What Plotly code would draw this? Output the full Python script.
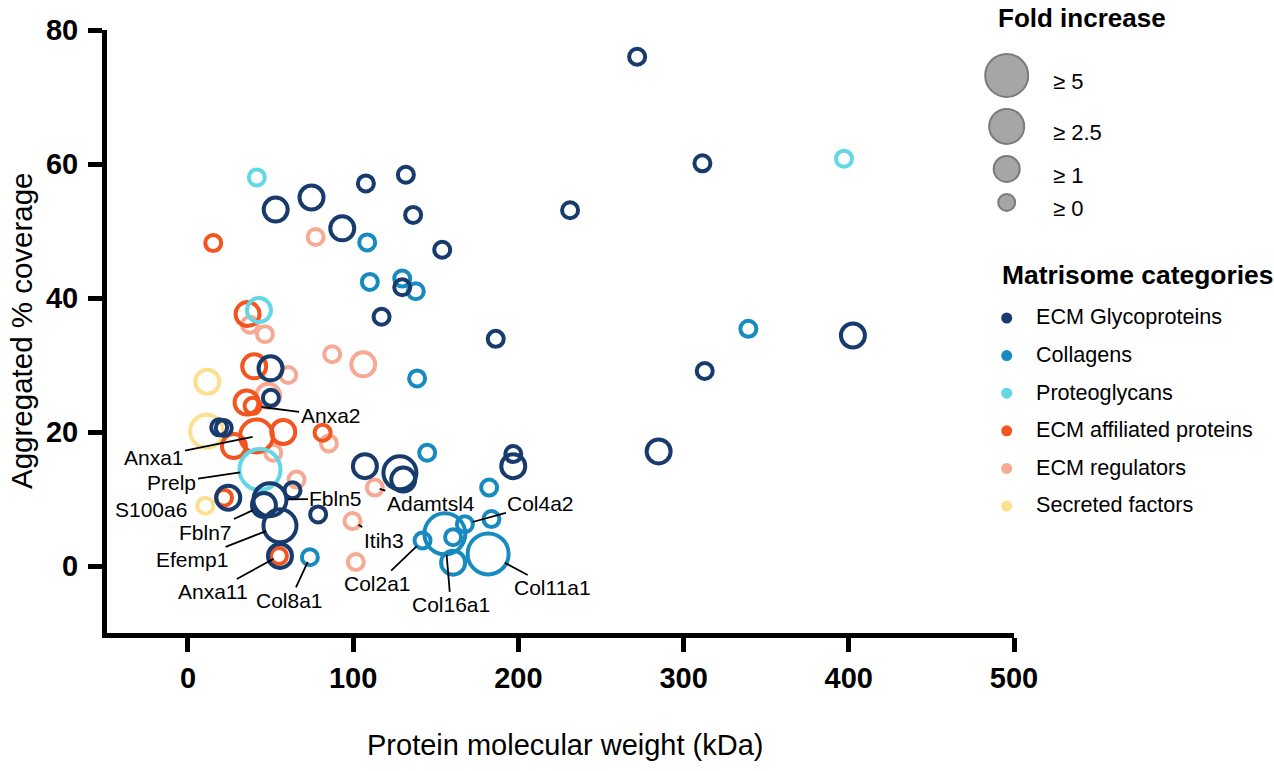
import plotly.graph_objects as go

# ---------------- data ----------------
categories = ["ECM Glycoproteins", "Collagens", "Proteoglycans",
              "ECM affiliated proteins", "ECM regulators", "Secreted factors"]
cat_colors = ["#173b6d", "#178bc0", "#63d7e6", "#f4541f", "#f6aa93", "#fde08f"]

fold_levels = [5, 2.5, 1, 0]
fold_labels = ["≥ 5", "≥ 2.5", "≥ 1", "≥ 0"]

glyco_mw = [53.1, 74.8, 107.7, 131.9, 136.3, 93.4, 153.9, 129.7, 117.2, 50.0, 50.2, 18.9, 21.7,
            24.4, 63.3, 46.0, 49.6, 55.7, 78.8, 55.7, 186.3, 107.1, 128.3, 130.3, 196.9, 196.9,
            271.9, 311.4, 231.3, 402.5, 312.8, 284.9]
glyco_cov = [53.2, 55.0, 57.1, 58.4, 52.4, 50.4, 47.2, 41.6, 37.2, 29.5, 25.1, 20.7, 20.6,
             10.2, 11.3, 9.1, 9.9, 6.0, 7.7, 1.5, 33.9, 14.9, 13.9, 12.9, 16.7, 14.9,
             76.0, 60.1, 53.1, 34.4, 29.1, 17.1]
glyco_fold = [1, 1, 0, 0, 0, 1, 0, 0, 0, 1, 0, 0, 0,
              1, 0, 1, 2.5, 2.5, 0, 1, 0, 1, 2.5, 1, 0, 1,
              0, 0, 0, 1, 0, 1]
glyco_names = [""] * 15 + ["Fbln7", "Fbln5", "Efemp1"] + [""] * 14

coll_mw = [108.5, 110.1, 129.7, 137.9, 138.7, 144.8, 182.3, 142.0, 155.5, 167.6, 160.5, 160.5,
           183.7, 181.7, 73.8, 339.2]
coll_cov = [48.3, 42.4, 42.9, 41.0, 28.0, 16.9, 11.7, 3.8, 4.8, 6.25, 4.3, 0.5,
            7.0, 1.8, 1.3, 35.4]
coll_fold = [0, 0, 0, 0, 0, 0, 0, 0, 5, 0, 0, 1, 0, 5, 0, 0]
coll_names = ["", "", "", "", "", "", "", "Col2a1", "Col16a1", "Col4a2", "", "",
              "", "Col11a1", "Col8a1", ""]

pg_mw = [41.7, 43.0, 43.6, 397.1]
pg_cov = [58.0, 38.2, 14.4, 60.8]
pg_fold = [0, 1, 5, 0]
pg_names = ["", "", "Prelp", ""]

aff_mw = [15.3, 36.1, 40.1, 35.5, 39.1, 41.5, 57.7, 27.8, 81.5, 21.8, 55.1]
aff_cov = [48.2, 37.6, 29.8, 24.4, 23.9, 19.4, 20.0, 17.9, 19.9, 10.2, 1.5]
aff_fold = [0, 1, 1, 1, 0, 2.5, 1, 1, 0, 0, 0]
aff_names = ["", "", "", "", "Anxa2", "Anxa1", "", "", "", "", "Anxa11"]

reg_mw = [77.3, 37.5, 46.6, 87.3, 60.7, 48.6, 85.3, 51.6, 65.7, 106.1, 113.1, 99.6, 101.6]
reg_cov = [49.1, 36.0, 34.6, 31.6, 28.5, 25.4, 18.3, 16.9, 12.9, 30.1, 11.7, 6.7, 0.6]
reg_fold = [0, 0, 0, 0, 0, 1, 0, 0, 0, 1, 0, 0, 0]
reg_names = [""] * 10 + ["Adamtsl4", "Itih3", ""]

sec_mw = [11.7, 11.3, 10.5]
sec_cov = [27.5, 20.1, 9.0]
sec_fold = [1, 2.5, 0]
sec_names = ["", "", "S100a6"]

x_ticks = [0, 100, 200, 300, 400, 500]
y_ticks = [0, 20, 40, 60, 80]

# ---------------- styling ----------------
FONT = "Liberation Sans, Arial, Helvetica, sans-serif"
W, H = 1274, 771
PX0, PX1, PY0, PY1 = 107, 1014, 30, 633      # plot area in pixels
XR, YR = [-49, 500], [-10, 80]
ring_w = 4
outer_d = {5: 45, 2.5: 37, 1: 28, 0: 20}

# label placement: (text offset x, offset y in px, standoff)
label_pos = {
    "Anxa2": (78, 10, 9), "Anxa1": (-103, 21, 4), "Prelp": (-88, 13, 20),
    "Fbln5": (66, -1, 18), "Fbln7": (-58, 27, 12), "Efemp1": (-88, 34, 15),
    "Anxa11": (-66, 36, 6), "Col8a1": (-20, 43, 5), "Adamtsl4": (56, 16, 5),
    "Itih3": (31, 19, 7), "Col2a1": (-45, 43, 8), "Col16a1": (6, 71, 21),
    "Col4a2": (76, -21, 8), "Col11a1": (64, 34, 19), "S100a6": (-54, 4, 0),
}

series = {
    "ECM Glycoproteins": (glyco_mw, glyco_cov, glyco_fold, glyco_names),
    "Collagens": (coll_mw, coll_cov, coll_fold, coll_names),
    "Proteoglycans": (pg_mw, pg_cov, pg_fold, pg_names),
    "ECM affiliated proteins": (aff_mw, aff_cov, aff_fold, aff_names),
    "ECM regulators": (reg_mw, reg_cov, reg_fold, reg_names),
    "Secreted factors": (sec_mw, sec_cov, sec_fold, sec_names),
}
draw_order = ["Secreted factors", "ECM regulators", "ECM affiliated proteins",
              "Proteoglycans", "Collagens", "ECM Glycoproteins"]

LBL = dict(family=FONT, size=21, color="black")

fig = go.Figure()
annotations = []
for cat in draw_order:
    mw, cov, fold, names = series[cat]
    col = cat_colors[categories.index(cat)]
    fig.add_trace(go.Scatter(
        x=mw, y=cov, mode="markers", name=cat, showlegend=False,
        marker=dict(symbol="circle-open", size=[outer_d[f] - ring_w for f in fold],
                    color=col, opacity=1, line=dict(width=ring_w, color=col)),
        xaxis="x", yaxis="y"))
    for xv, yv, f, nm in zip(mw, cov, fold, names):
        if not nm:
            continue
        ax, ay, so = label_pos[nm]
        if nm == "S100a6":
            annotations.append(dict(x=xv, y=yv, xref="x", yref="y", text=nm, showarrow=False,
                                    xanchor="center", xshift=ax, yshift=-ay, font=LBL))
        else:
            annotations.append(dict(x=xv, y=yv, xref="x", yref="y", text=nm, showarrow=True,
                                    ax=ax, ay=ay, arrowhead=0, arrowwidth=1.8, arrowcolor="black",
                                    standoff=so, font=LBL))

# ---------------- legend (auxiliary pixel-space axes) ----------------
LX0 = 960
leg_x = 1006.7
diams = [outer_d[f] if f != 0 else 19 for f in fold_levels]
centers = []
cy = 75.4
for i, d in enumerate(diams):
    if i > 0:
        cy += (diams[i - 1] + d) / 2 + 10
    centers.append(cy)
fig.add_trace(go.Scatter(
    x=[leg_x] * len(fold_levels), y=centers, mode="markers", showlegend=False, hoverinfo="skip",
    marker=dict(symbol="circle", size=[d - 2 for d in diams], color="#a6a6a6", opacity=1,
                line=dict(width=2, color="#7b7b7b")),
    xaxis="x2", yaxis="y2"))
fig.add_trace(go.Scatter(
    x=[1053] * len(fold_levels), y=[c + 8.5 for c in centers], mode="text", text=fold_labels,
    textposition="middle right", showlegend=False, hoverinfo="skip",
    textfont=dict(family=FONT, size=22, color="black"), xaxis="x2", yaxis="y2"))

cat_y = [319 + i * 37.6 for i in range(len(categories))]
fig.add_trace(go.Scatter(
    x=[leg_x] * len(categories), y=[c - 1 for c in cat_y], mode="markers", showlegend=False,
    hoverinfo="skip", marker=dict(symbol="circle", size=11, color=cat_colors, opacity=1),
    xaxis="x2", yaxis="y2"))
fig.add_trace(go.Scatter(
    x=[1036] * len(categories), y=cat_y, mode="text", text=categories,
    textposition="middle right", showlegend=False, hoverinfo="skip",
    textfont=dict(family=FONT, size=21.6, color="black"), xaxis="x2", yaxis="y2"))

annotations += [
    dict(x=996, y=18, xref="x2", yref="y2", text="<b>Fold increase</b>", showarrow=False,
         xanchor="left", yanchor="middle", font=dict(family=FONT, size=26, color="black")),
    dict(x=1000, y=275, xref="x2", yref="y2", text="<b>Matrisome categories</b>", showarrow=False,
         xanchor="left", yanchor="middle", font=dict(family=FONT, size=26.4, color="black")),
    dict(x=565 / W, y=1 - 745 / H, xref="paper", yref="paper",
         text="Protein molecular weight (kDa)", showarrow=False, xanchor="center", yanchor="middle",
         font=dict(family=FONT, size=29, color="black")),
    dict(x=21 / W, y=1 - 331 / H, xref="paper", yref="paper", text="Aggregated % coverage",
         showarrow=False, textangle=-90, xanchor="center", yanchor="middle",
         font=dict(family=FONT, size=29.5, color="black")),
]

axis_common = dict(showgrid=False, zeroline=False, showline=True, linecolor="black", linewidth=5,
                   ticks="outside", ticklen=14, tickwidth=5, tickcolor="black", automargin=False,
                   tickfont=dict(family=FONT, size=29, color="black", weight="bold"))

fig.update_layout(
    width=W, height=H, margin=dict(l=0, r=0, t=0, b=0, autoexpand=False),
    paper_bgcolor="white", plot_bgcolor="rgba(0,0,0,0)",
    showlegend=False, annotations=annotations,
    xaxis=dict(domain=[PX0 / W, PX1 / W], range=XR, tickvals=x_ticks, ticklabelstandoff=1,
               **axis_common),
    yaxis=dict(domain=[1 - PY1 / H, 1 - PY0 / H], range=YR, tickvals=y_ticks, ticklabelstandoff=4,
               **axis_common),
    xaxis2=dict(domain=[LX0 / W, 1], range=[LX0, W], visible=False, fixedrange=True),
    yaxis2=dict(domain=[0, 1], range=[H, 0], visible=False, fixedrange=True),
)

fig.write_html("out.html")
